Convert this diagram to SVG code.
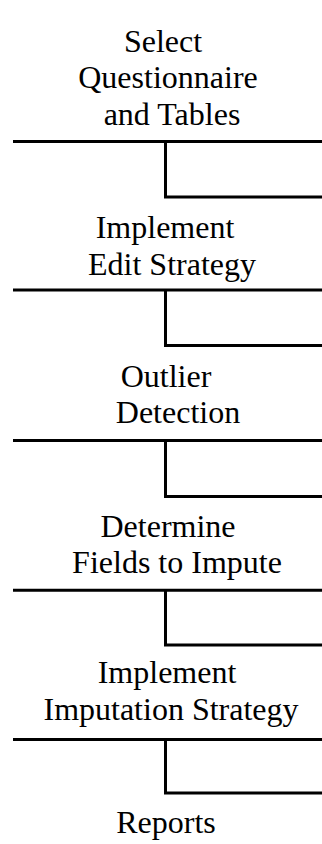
<svg xmlns="http://www.w3.org/2000/svg" width="322" height="844" viewBox="0 0 322 844">
<style>
.t{font-size:32px;fill:#000;text-anchor:middle}
.c{fill:none;stroke:#000;stroke-width:3;stroke-linejoin:miter}
</style>
<rect width="322" height="844" fill="#fff"/>
<g id="n1">
<text class="t" x="163" y="51.5" style="font-family:'Liberation Serif',serif">Select</text>
<text class="t" x="168" y="88.3" style="font-family:'Liberation Serif',serif">Questionnaire</text>
<text class="t" x="172" y="125" style="font-family:'Liberation Serif',serif">and Tables</text>
</g>
<g id="n2">
<text class="t" x="165" y="238.3" style="font-family:'Liberation Serif',serif">Implement</text>
<text class="t" x="172" y="275" style="font-family:'Liberation Serif',serif">Edit Strategy</text>
</g>
<g id="n3">
<text class="t" x="166" y="386.7" style="font-family:'Liberation Serif',serif">Outlier</text>
<text class="t" x="178" y="423.3" style="font-family:'Liberation Serif',serif">Detection</text>
</g>
<g id="n4">
<text class="t" x="168" y="536.7" style="font-family:'Liberation Serif',serif">Determine</text>
<text class="t" x="177" y="573.3" style="font-family:'Liberation Serif',serif">Fields to Impute</text>
</g>
<g id="n5">
<text class="t" x="167" y="683.3" style="font-family:'Liberation Serif',serif">Implement</text>
<text class="t" x="171" y="720" style="font-family:'Liberation Serif',serif">Imputation Strategy</text>
</g>
<g id="n6">
<text class="t" x="166" y="833" style="font-family:'Liberation Serif',serif">Reports</text>
</g>
<g id="connectors">
<path class="c" d="M13 141.5H322M165.5 141.5V197H322"/>
<path class="c" d="M13 290H322M165.5 290V345.5H322"/>
<path class="c" d="M13 440.5H322M165.5 440.5V496.5H322"/>
<path class="c" d="M13 590.3H322M165.5 590.3V645H322"/>
<path class="c" d="M13 739.5H322M165.5 739.5V793H322"/>
</g>
</svg>
